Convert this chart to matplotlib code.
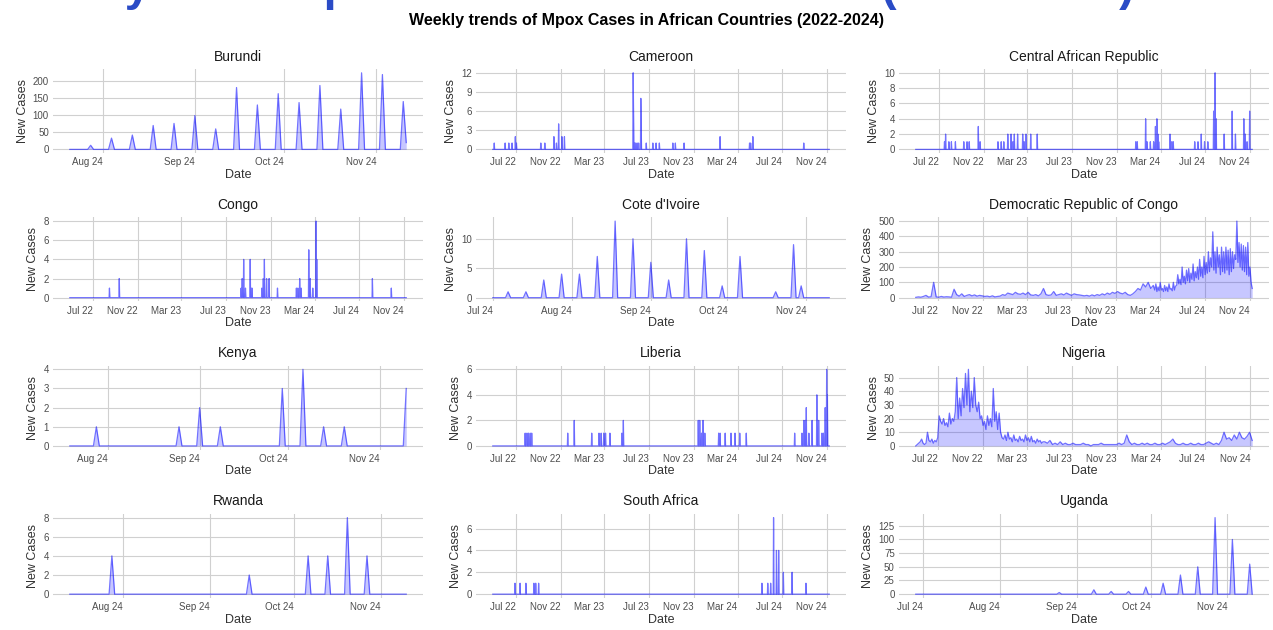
import matplotlib
matplotlib.use('Agg')
import matplotlib.pyplot as plt
import matplotlib.dates as mdates
from matplotlib.ticker import MultipleLocator
import pandas as pd

plt.rcParams['font.family'] = ['Liberation Sans', 'DejaVu Sans']

# ---- data (reported days only, other days are 0) ----
burundi_dates = ['2024-07-28', '2024-08-04', '2024-08-11', '2024-08-18', '2024-08-25',
                 '2024-09-01', '2024-09-08', '2024-09-15', '2024-09-22', '2024-09-29',
                 '2024-10-06', '2024-10-13', '2024-10-20', '2024-10-27', '2024-11-03',
                 '2024-11-10', '2024-11-11']
burundi_cases = [12, 33, 42, 70, 76, 99, 60, 181, 130, 163, 137, 187, 118, 224, 219, 140, 20]

cameroon_dates = ['2022-05-02', '2022-06-01', '2022-06-11', '2022-06-20', '2022-06-29',
                  '2022-07-02', '2022-09-07', '2022-09-18', '2022-10-13', '2022-10-20',
                  '2022-10-26', '2022-11-04', '2022-11-11', '2023-05-19', '2023-05-20',
                  '2023-05-23', '2023-05-26', '2023-05-30', '2023-06-03', '2023-06-09',
                  '2023-06-10', '2023-06-24', '2023-07-12', '2023-07-21', '2023-07-30',
                  '2023-09-05', '2023-09-12', '2023-10-06', '2024-01-13', '2024-04-03',
                  '2024-04-06', '2024-04-12', '2024-08-30']
cameroon_cases = [1, 1, 1, 1, 2, 1, 1, 1, 2, 1, 4, 2, 2, 12, 6, 1, 1, 1, 1, 8, 4, 1, 1, 1, 1,
                  1, 1, 1, 2, 1, 1, 2, 1]

car_dates = ['2022-07-16', '2022-07-19', '2022-07-28', '2022-08-04', '2022-08-15',
             '2022-09-07', '2022-09-16', '2022-09-22', '2022-10-17', '2022-10-22',
             '2022-12-10', '2022-12-19', '2022-12-26', '2023-01-06', '2023-01-15',
             '2023-01-20', '2023-01-24', '2023-02-02', '2023-02-16', '2023-02-20',
             '2023-02-25', '2023-03-10', '2023-03-28', '2023-12-24', '2023-12-28',
             '2024-01-20', '2024-01-24', '2024-02-02', '2024-02-11', '2024-02-16',
             '2024-02-20', '2024-02-23', '2024-02-25', '2024-03-27', '2024-04-01',
             '2024-04-05', '2024-06-03', '2024-06-12', '2024-06-21', '2024-06-30',
             '2024-07-09', '2024-07-25', '2024-07-29', '2024-08-01', '2024-08-23',
             '2024-09-14', '2024-09-23', '2024-10-16', '2024-10-20', '2024-10-25',
             '2024-11-01']
car_cases = [1, 2, 1, 1, 1, 1, 1, 1, 3, 1, 1, 1, 1, 2, 2, 1, 2, 2, 2, 1, 2, 2, 2, 1, 1,
             4, 1, 1, 1, 3, 4, 2, 1, 2, 1, 1, 1, 1, 2, 1, 1, 5, 10, 4, 2, 5, 2, 4, 2, 1, 5]

congo_dates = ['2022-08-15', '2022-09-11', '2023-08-12', '2023-08-15', '2023-08-17',
               '2023-08-19', '2023-08-24', '2023-09-06', '2023-09-08', '2023-09-11',
               '2023-10-08', '2023-10-12', '2023-10-15', '2023-10-21', '2023-10-28',
               '2023-11-20', '2024-01-11', '2024-01-15', '2024-01-20', '2024-01-24',
               '2024-02-14', '2024-02-18', '2024-02-25', '2024-03-05', '2024-03-07',
               '2024-08-07', '2024-09-28']
congo_cases = [1, 2, 1, 2, 1, 4, 1, 4, 1, 1, 1, 2, 4, 2, 2, 1, 1, 1, 2, 1, 5, 2, 1, 8, 4, 2, 1]

civ_dates = ['2024-07-07', '2024-07-14', '2024-07-21', '2024-07-28', '2024-08-04',
             '2024-08-11', '2024-08-18', '2024-08-25', '2024-09-01', '2024-09-08',
             '2024-09-15', '2024-09-22', '2024-09-29', '2024-10-06', '2024-10-20',
             '2024-10-27', '2024-10-30']
civ_cases = [1, 1, 3, 4, 4, 7, 13, 10, 6, 3, 10, 8, 2, 7, 1, 9, 2]

# DRC: weekly until Feb 2024, then every third day
drc_cases_early = [2, 5, 3, 8, 15, 4, 6, 100, 5, 3, 8, 4, 6, 5, 3, 55,
                   20, 10, 25, 8, 15, 20, 12, 18, 10, 15,
                   12, 8, 10, 6, 12, 5, 8, 10, 20, 15,
                   30, 25, 20, 35, 25, 22, 30, 20, 35, 18,
                   15, 20, 12, 25, 60, 20, 15, 18, 40, 15,
                   20, 25, 18, 30, 22, 15, 25, 20, 18, 15,
                   12, 15, 10, 18, 12, 20, 15, 25, 18, 30,
                   22, 35, 28, 40, 30, 25, 35, 20, 15, 25,
                   40, 60, 50, 90, 70, 100, 60, 80]
drc_cases_late = [50, 90, 40, 70, 45, 100, 50, 60, 40, 80,
                  45, 70, 40, 90, 55, 60, 45, 100, 50, 75,
                  80, 150, 90, 120, 85, 200, 100, 140, 90, 180,
                  110, 190, 100, 160, 120, 220, 110, 170, 130, 200,
                  120, 250, 140, 200, 130, 270, 150, 230, 160, 300,
                  170, 260, 200, 430, 180, 300, 160, 330, 200, 280,
                  150, 330, 170, 300, 160, 330, 180, 310, 150, 320,
                  170, 300, 190, 280, 250, 500, 230, 360, 200, 350,
                  180, 340, 170, 330, 150, 360, 140, 200, 100, 60]
drc_dates = list(pd.date_range('2022-05-01', periods=len(drc_cases_early), freq='7D')) + \
            list(pd.date_range('2024-02-15', periods=len(drc_cases_late), freq='3D'))
drc_cases = drc_cases_early + drc_cases_late

kenya_dates = ['2024-07-28', '2024-08-25', '2024-09-01', '2024-09-08', '2024-09-29',
               '2024-10-06', '2024-10-13', '2024-10-20', '2024-11-10']
kenya_cases = [1, 1, 2, 1, 3, 4, 1, 1, 3]

liberia_dates = ['2022-07-26', '2022-07-31', '2022-08-04', '2022-08-09', '2022-08-13',
                 '2022-11-20', '2022-12-08', '2023-01-25', '2023-02-14', '2023-02-20',
                 '2023-02-27', '2023-03-04', '2023-03-16', '2023-04-18', '2023-04-22',
                 '2023-11-14', '2023-11-18', '2023-11-23', '2023-11-27', '2023-12-02',
                 '2024-01-09', '2024-01-13', '2024-01-27', '2024-02-12', '2024-02-23',
                 '2024-03-07', '2024-03-25', '2024-08-05', '2024-08-25', '2024-08-30',
                 '2024-09-03', '2024-09-06', '2024-09-13', '2024-09-22', '2024-10-05',
                 '2024-10-10', '2024-10-19', '2024-10-23', '2024-10-28', '2024-11-01',
                 '2024-11-03']
liberia_cases = [1, 1, 1, 1, 1, 1, 2, 1, 1, 1, 1, 1, 1, 1, 2, 2, 2, 1, 2, 1, 1, 1, 1, 1, 1,
                 1, 1, 1, 1, 2, 2, 3, 1, 2, 4, 2, 1, 1, 3, 6, 4]

# Nigeria: every fourth day until Apr 2023, then weekly
nigeria_cases_early = [0, 1, 2, 3, 5, 2, 1, 2, 10, 4, 3, 5, 2, 4, 3, 6,
                       22, 18, 16, 20, 15, 17, 14, 24, 16, 20, 18, 25,
                       50, 20, 35, 22, 42, 28, 53, 30, 56, 25, 40, 28, 50,
                       30, 25, 32, 20, 22, 15, 18, 12, 22, 15, 20, 14, 42, 18, 25, 12, 24, 10,
                       6, 5, 8, 4, 10, 5, 6, 3, 8, 4, 5, 3, 7, 4, 5, 3, 8, 4, 6, 3, 7, 3, 4,
                       2, 5, 3, 4, 2, 3]
nigeria_cases_late = [3, 2, 4, 1, 2, 1, 3, 1, 2, 1,
                      1, 2, 1, 1, 1, 2, 1, 1, 0, 1,
                      1, 1, 2, 1, 1, 1, 1, 1, 1, 2,
                      1, 2, 8, 3, 1, 2, 1, 1, 2, 1,
                      2, 1, 1, 2, 1, 1, 2, 1, 2, 3,
                      5, 2, 1, 1, 2, 1, 1, 2, 1, 1,
                      2, 1, 1, 2, 3, 2, 1, 2, 1, 4,
                      10, 5, 6, 4, 8, 5, 10, 6, 5, 7, 10, 4]
nigeria_dates = list(pd.date_range('2022-05-01', periods=len(nigeria_cases_early), freq='4D')) + \
                list(pd.date_range('2023-04-19', periods=len(nigeria_cases_late), freq='7D'))
nigeria_cases = nigeria_cases_early + nigeria_cases_late

rwanda_dates = ['2024-07-28', '2024-09-15', '2024-10-06', '2024-10-13', '2024-10-20', '2024-10-27']
rwanda_cases = [4, 2, 4, 4, 8, 4]

sa_dates = ['2022-06-28', '2022-07-12', '2022-07-28', '2022-08-19', '2022-08-24',
            '2022-09-01', '2024-05-07', '2024-05-23', '2024-05-31', '2024-06-08',
            '2024-06-16', '2024-06-22', '2024-07-05', '2024-07-29', '2024-09-05']
sa_cases = [1, 1, 1, 1, 1, 1, 1, 1, 1, 7, 4, 4, 2, 2, 1]

uganda_dates = ['2024-08-25', '2024-09-08', '2024-09-15', '2024-09-22', '2024-09-29',
                '2024-10-06', '2024-10-13', '2024-10-20', '2024-10-27', '2024-11-03',
                '2024-11-10']
uganda_cases = [3, 8, 5, 5, 13, 20, 35, 50, 140, 100, 55]

# name, dates, cases, first day, last day, y step, zero-filled daily?, long axis?
countries = [
    ('Burundi', burundi_dates, burundi_cases, '2024-07-21', '2024-11-11', 50, True, False),
    ('Cameroon', cameroon_dates, cameroon_cases, '2022-04-28', '2024-11-08', 3, True, True),
    ('Central African Republic', car_dates, car_cases, '2022-04-28', '2024-11-08', 2, True, True),
    ('Congo', congo_dates, congo_cases, '2022-04-28', '2024-11-08', 2, True, True),
    ("Cote d'Ivoire", civ_dates, civ_cases, '2024-07-01', '2024-11-10', 5, True, False),
    ('Democratic Republic of Congo', drc_dates, drc_cases, None, None, 100, False, True),
    ('Kenya', kenya_dates, kenya_cases, '2024-07-19', '2024-11-10', 1, True, False),
    ('Liberia', liberia_dates, liberia_cases, '2022-04-28', '2024-11-08', 2, True, True),
    ('Nigeria', nigeria_dates, nigeria_cases, None, None, 10, False, True),
    ('Rwanda', rwanda_dates, rwanda_cases, '2024-07-13', '2024-11-10', 2, True, False),
    ('South Africa', sa_dates, sa_cases, '2022-04-28', '2024-11-08', 2, True, True),
    ('Uganda', uganda_dates, uganda_cases, '2024-06-28', '2024-11-11', 25, True, False),
]

fig, axes = plt.subplots(4, 3, figsize=(12.73, 6.3), dpi=100,
                         gridspec_kw=dict(left=53/1273, right=1269/1273,
                                          top=1-69/630, bottom=1-598/630,
                                          wspace=0.143, hspace=0.76))

for ax, (name, dates, cases, start, end, ystep, zero_fill, long_axis) in zip(axes.flat, countries):
    s = pd.Series(cases, index=pd.to_datetime(dates))
    if zero_fill:
        s = s.reindex(pd.date_range(start, end, freq='D'), fill_value=0)
    ax.fill_between(s.index, 0, s.values, color='blue', alpha=0.22, lw=0)
    ax.plot(s.index, s.values, color='blue', lw=0.9, alpha=0.55)

    ax.set_title(name, fontsize=10, pad=6, color='#1a1a1a')
    ax.set_xlabel('Date', fontsize=9, labelpad=1, color='#333333')
    ax.set_ylabel('New Cases', fontsize=9, labelpad=3, color='#333333')
    ax.yaxis.set_major_locator(MultipleLocator(ystep))
    if long_axis:
        ax.xaxis.set_major_locator(mdates.MonthLocator(bymonth=[3, 7, 11]))
    else:
        ax.xaxis.set_major_locator(mdates.MonthLocator())
    ax.xaxis.set_major_formatter(mdates.DateFormatter('%b %y'))
    ax.tick_params(length=0, labelsize=7, labelcolor='#4d4d4d', pad=3)
    ax.grid(True, color='#d0d0d0', lw=0.8)
    ax.set_axisbelow(True)
    for sp in ax.spines.values():
        sp.set_visible(False)
    for lab in ax.get_xticklabels():
        lab.set_horizontalalignment('right')

fig.text(0.508, 1 - 20/630, 'Weekly trends of Mpox Cases in African Countries (2022-2024)',
         ha='center', va='center', fontsize=11.5, fontweight='bold')
# big heading above, cut off by the top edge in the screenshot
fig.text(24/1273, 1.0, 'Analysis of Mpox Cases Across Africa (2022-2024)',
         ha='left', va='baseline', fontsize=33.5, fontweight='bold', color='#2a4bc6')

fig.savefig('out.png', dpi=100)
